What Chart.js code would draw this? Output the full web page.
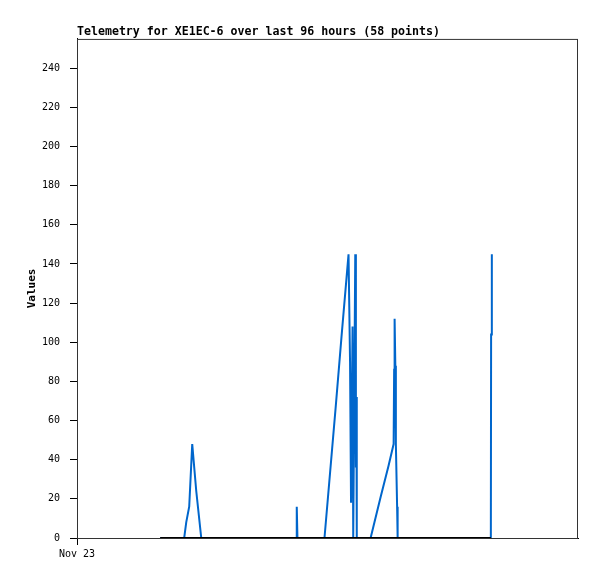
<!DOCTYPE html>
<html lang="en">
  <head>
    <meta charset="UTF-8" />
    <title>Telemetry XE1EC-6</title>
    <script src="https://cdn.jsdelivr.net/npm/chart.js"></script>
    <style>
      body {
        margin: 0;
        background: #ffffff;
      }
      .graph {
        width: 597px;
        height: 579px;
      }
    </style>
  </head>

  <body>
    <div class="graph">
      <canvas id="myChart"></canvas>
    </div>

    <script>
      // dados (x em horas desde o inicio, y = valor)
      var horas = [
        15.94, 20.54, 20.93, 21.5, 22.08, 22.85, 23.81, 33.22, 42.05, 42.11,
        42.24, 47.42, 49.54, 50.69, 51.65, 52.03, 52.32, 52.51, 52.8, 52.93,
        53.32, 53.44, 53.53, 53.61, 56.26, 58.18, 59.71, 60.67, 60.77, 60.86,
        61.0, 61.1, 61.34, 61.44, 69.7, 79.3, 79.35, 79.49,
      ];
      var valores = [
        0, 0, 8, 16, 48, 24, 0, 0, 0, 16,
        0, 0, 66, 103, 133, 145, 90, 18, 108, 0,
        145, 36, 72, 0, 0, 21, 37, 48, 86, 112,
        88, 48, 16, 0, 0, 0, 104, 145,
      ];

      // linha preta no zero
      var zeroHoras = [15.94, 79.3];
      var zeroValores = [0, 0];

      var yTicks = [0, 20, 40, 60, 80, 100, 120, 140, 160, 180, 200, 220, 240];
      var xTickHoras = [0];
      var xTickLabels = ["Nov 23"];

      var fonte = "'DejaVu Sans Mono', monospace";

      var serie = [];
      for (var i = 0; i < horas.length; i++) {
        serie.push({ x: horas[i], y: valores[i] });
      }
      var serieZero = [];
      for (var j = 0; j < zeroHoras.length; j++) {
        serieZero.push({ x: zeroHoras[j], y: zeroValores[j] });
      }

      // moldura em volta da area do grafico
      const moldura = {
        id: "moldura",
        afterDraw(chart) {
          var a = chart.chartArea;
          var ctx = chart.ctx;
          ctx.save();
          ctx.strokeStyle = "#333333";
          ctx.lineWidth = 1;
          ctx.strokeRect(a.left + 0.5, a.top + 0.5, a.right - a.left - 1, a.bottom - a.top);
          ctx.restore();
        },
      };

      const config = {
        type: "line",
        data: {
          datasets: [
            {
              label: "zero",
              data: serieZero,
              borderColor: "#000000",
              borderWidth: 2,
              pointRadius: 0,
              tension: 0,
            },
            {
              label: "Values",
              data: serie,
              borderColor: "#0066cc",
              borderWidth: 2,
              pointRadius: 0,
              tension: 0,
            },
          ],
        },
        options: {
          responsive: true,
          maintainAspectRatio: false,
          animation: false,
          layout: { padding: { left: 0, right: 19, top: 0, bottom: 0 } },
          plugins: {
            legend: { display: false },
            tooltip: { enabled: false },
            title: {
              display: true,
              text: "Telemetry for XE1EC-6 over last 96 hours (58 points)",
              align: "start",
              fullSize: false,
              color: "#000000",
              font: { family: fonte, size: 11.6, weight: "bold" },
              padding: { top: 25, bottom: 0 },
            },
          },
          scales: {
            x: {
              type: "linear",
              min: 0,
              max: 96,
              afterBuildTicks: function (scale) {
                scale.ticks = xTickHoras.map(function (v) {
                  return { value: v };
                });
              },
              afterFit: function (scale) {
                scale.height = 41;
              },
              grid: {
                drawOnChartArea: false,
                tickLength: 7,
                color: "#000000",
              },
              border: { color: "#000000" },
              ticks: {
                color: "#000000",
                padding: 3,
                maxRotation: 0,
                font: { family: fonte, size: 10 },
                callback: function (v) {
                  var k = xTickHoras.indexOf(v);
                  return k >= 0 ? xTickLabels[k] : "";
                },
              },
            },
            y: {
              min: 0,
              max: 255,
              afterBuildTicks: function (scale) {
                scale.ticks = yTicks.map(function (v) {
                  return { value: v };
                });
              },
              afterFit: function (scale) {
                scale.width = 77;
              },
              grid: {
                drawOnChartArea: false,
                tickLength: 7,
                color: "#000000",
              },
              border: { color: "#000000" },
              ticks: {
                color: "#000000",
                padding: 10,
                font: { family: fonte, size: 10 },
              },
              title: {
                display: true,
                text: "Values",
                color: "#000000",
                font: { family: fonte, size: 11, weight: "bold" },
                padding: { top: 26, bottom: 0 },
              },
            },
          },
        },
        plugins: [moldura],
      };

      var myChart = new Chart(document.getElementById("myChart"), config);
    </script>
  </body>
</html>
